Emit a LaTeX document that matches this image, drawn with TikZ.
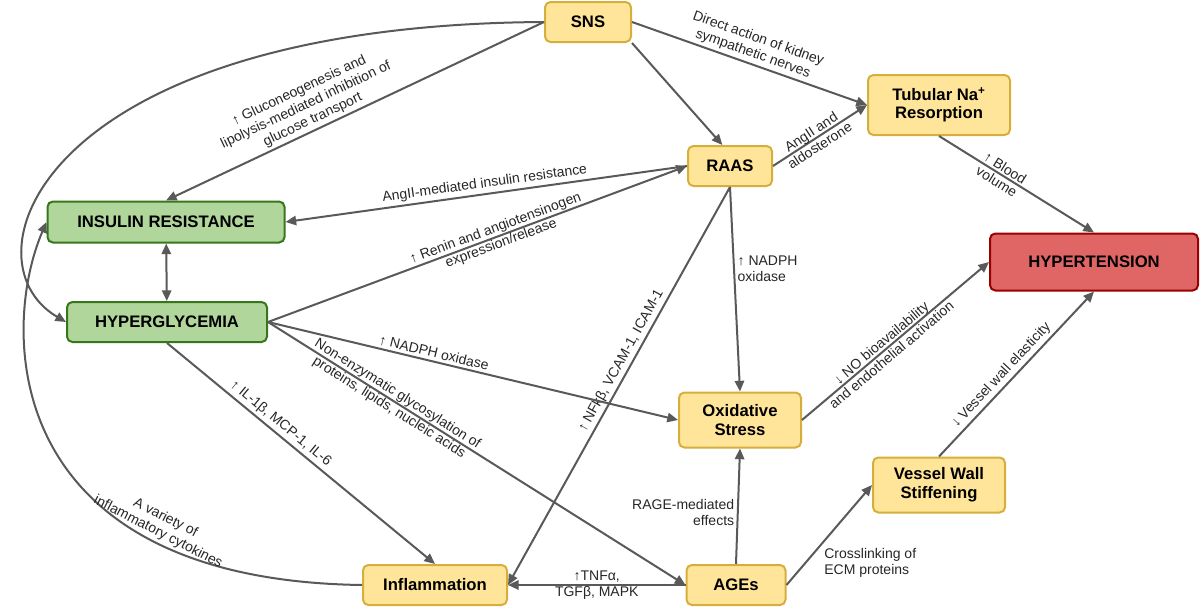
\documentclass[tikz,border=0pt]{standalone}
\usepackage{fontspec}
\setmainfont{Liberation Sans}
\usetikzlibrary{arrows.meta}
\definecolor{ylwfill}{RGB}{255,229,153}
\definecolor{ylwline}{RGB}{214,174,60}
\definecolor{grnfill}{RGB}{176,214,156}
\definecolor{grnline}{RGB}{56,118,29}
\definecolor{redfill}{RGB}{224,102,102}
\definecolor{redline}{RGB}{153,0,0}
\definecolor{arrgray}{RGB}{89,89,89}
\tikzset{every picture/.style={line width=0.75pt}}
\tikzset{
  box/.style={draw=ylwline, fill=ylwfill, line width=1.5pt, rounded corners=4pt, align=center, font=\fontsize{12.5}{14}\selectfont\bfseries, inner sep=0pt},
  gbox/.style={box, draw=grnline, fill=grnfill},
  rbox/.style={box, draw=redline, fill=redfill},
  link/.style={draw=arrgray, line width=1.5pt, -{Triangle[length=8pt,width=7pt]}},
  lbl/.style={font=\fontsize{10.5}{12}\selectfont, text=black!85, align=center, inner sep=2pt}
}
\begin{document}
\begin{tikzpicture}[x=0.75pt,y=0.75pt]
\path[use as bounding box] (0,0) rectangle (1200,-607);

% Boxes
\node[box, minimum width=64.5pt, minimum height=30pt] (sns) at (588,-22) {SNS};
\node[box, minimum width=106.5pt, minimum height=45pt] (tub) at (939,-105) {Tubular Na\textsuperscript{+}\\Resorption};
\node[box, minimum width=63pt, minimum height=30pt] (raas) at (730,-166) {RAAS};
\node[gbox, minimum width=177.75pt, minimum height=30.75pt] (ir) at (166,-222) {INSULIN RESISTANCE};
\node[rbox, minimum width=156pt, minimum height=42.75pt] (htn) at (1094,-262) {HYPERTENSION};
\node[gbox, minimum width=150pt, minimum height=30pt] (hg) at (167,-322) {HYPERGLYCEMIA};
\node[box, minimum width=91.5pt, minimum height=41.25pt] (ox) at (740,-420) {Oxidative\\Stress};
\node[box, minimum width=99pt, minimum height=41.25pt] (vw) at (939,-485) {Vessel Wall\\Stiffening};
\node[box, minimum width=108pt, minimum height=30pt] (inf) at (435,-585) {Inflammation};
\node[box, minimum width=74.25pt, minimum height=30pt] (ages) at (736,-585) {AGEs};

% Connectors
\draw[link] (sns.east) -- node[lbl, sloped, above, pos=0.5] {Direct action of kidney\\sympathetic nerves} (tub.west);
\draw[link] (sns.south east) -- (raas.110);
\draw[link] (sns.west) -- node[lbl, sloped, above, pos=0.6] {↑ Gluconeogenesis and\\lipolysis-mediated inhibition of\\glucose transport} (ir.north);
\draw[link] (sns.west) .. controls (40,-25) and (-40,-260) .. (hg.west);
\draw[link] (raas.east) -- node[lbl, sloped, pos=0.45] {AngII and\\aldosterone} (tub.west);
\draw[link] (raas.west) -- node[lbl, sloped, above, pos=0.5] {AngII-mediated insulin resistance} (ir.east);
\draw[link] (hg.east) -- node[lbl, sloped, pos=0.55] {↑ Renin and angiotensinogen\\expression/release} (raas.west);
\draw[link, {Triangle[length=8pt,width=7pt]}-{Triangle[length=8pt,width=7pt]}] (ir) -- (hg);
\draw[link] (raas.south) -- node[lbl, sloped, above, pos=0.45] {↑ NFkβ, VCAM-1, ICAM-1} (inf.east);
\draw[link] (raas.south) -- node[lbl, right, align=left, pos=0.4] {↑ NADPH\\oxidase} (ox.north);
\draw[link] (tub.south) -- node[lbl, sloped, pos=0.4] {↑ Blood\\volume} (htn.north);
\draw[link] (ox.east) -- node[lbl, sloped, pos=0.45] {↓ NO bioavailability\\and endothelial activation} (htn.west);
\draw[link] (vw.north) -- node[lbl, sloped, above, pos=0.45] {↓ Vessel wall elasticity} (htn.south);
\draw[link] (hg.east) -- node[lbl, sloped, above, pos=0.4] {↑ NADPH oxidase} (ox.west);
\draw[link] (hg.east) -- node[lbl, sloped, pos=0.3] {Non-enzymatic glycosylation of\\proteins, lipids, nucleic acids} (ages.west);
\draw[link] (hg.south) -- node[lbl, sloped, above, pos=0.4] {↑ IL-1β, MCP-1, IL-6} (inf.north);
\draw[link] (inf.west) .. controls (0,-580) and (0,-330) .. node[lbl, sloped, above, pos=0.25] {A variety of\\inflammatory cytokines} (ir.west);
\draw[link] (ages.west) -- node[lbl] {↑TNFα,\\TGFβ, MAPK} (inf.east);
\draw[link] (ages.north) -- node[lbl, left, align=right, pos=0.45] {RAGE-mediated\\effects} (ox.south);
\draw[link] (ages.east) -- node[lbl, below right, align=left, pos=0.4] {Crosslinking of\\ECM proteins} (vw.west);
\end{tikzpicture}
\end{document}
